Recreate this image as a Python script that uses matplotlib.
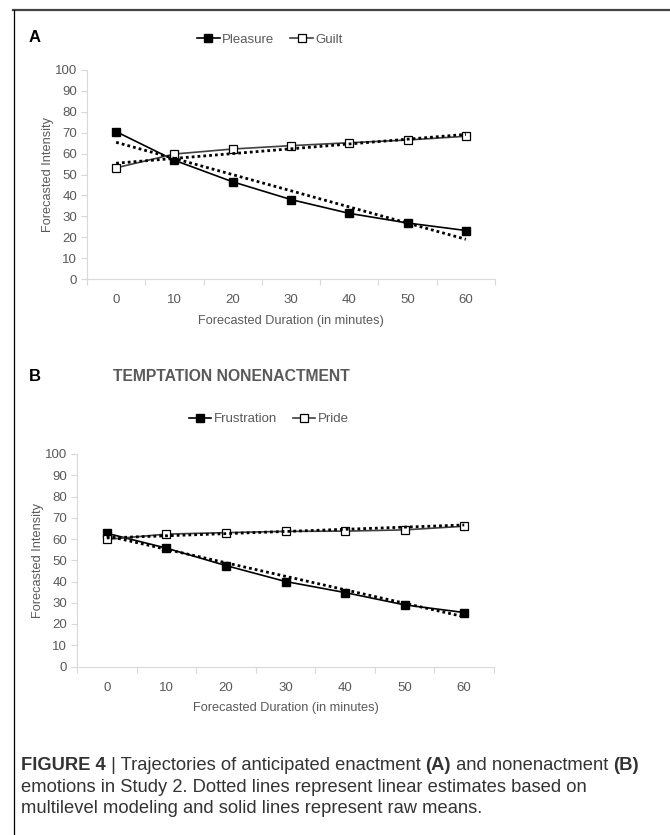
import numpy as np
import matplotlib.pyplot as plt
from matplotlib.lines import Line2D

# dados
duracao = ['0', '10', '20', '30', '40', '50', '60']

prazer = [70.5, 56.8, 46.5, 38.0, 31.4, 26.8, 23.2]
culpa = [53.2, 59.8, 62.2, 63.8, 65.2, 66.5, 68.3]
prazer_est = [65.4, 19.0]
culpa_est = [55.4, 69.2]

frustracao = [62.7, 55.7, 47.5, 40.0, 34.8, 29.0, 25.4]
orgulho = [59.8, 62.3, 63.0, 63.6, 63.7, 64.3, 66.0]
frustracao_est = [61.5, 23.4]
orgulho_est = [60.5, 66.6]

cinza = '#595959'
eixo = '#d9d9d9'
fonte_graf = ['Liberation Sans', 'DejaVu Sans']

fig = plt.figure(figsize=(6.7, 8.35), dpi=100)
W, H = 670, 835


def painel(rect, serie1, serie2, est1, est2):
    ax = fig.add_axes(rect)
    x = np.arange(len(duracao))
    l1, = ax.plot(x, serie1, color='black', lw=1.2, marker='s', ms=5.8,
                  mfc='black', mec='black', zorder=3)
    l2, = ax.plot(x, serie2, color='#404040', lw=1.2, marker='s', ms=5.8,
                  mfc='white', mec='black', mew=0.9, zorder=3)
    ax.plot([x[0], x[-1]], est1, color='black', lw=2, ls=(0, (1, 1.1)), zorder=4)
    ax.plot([x[0], x[-1]], est2, color='black', lw=2, ls=(0, (1, 1.1)), zorder=4)
    ax.set_xlim(-0.5, len(duracao) - 0.5)
    ax.set_ylim(0, 100)
    ax.set_yticks(np.arange(0, 101, 10))
    ax.set_xticks(np.arange(-0.5, len(duracao)), labels=[])
    ax.set_xticks(x, labels=duracao, minor=True)
    ax.tick_params(axis='x', which='major', length=4, color=eixo, direction='out')
    ax.tick_params(axis='x', which='minor', length=0, pad=11, labelsize=9.5,
                   labelcolor=cinza)
    ax.tick_params(axis='y', length=4, color=eixo, pad=3, labelsize=9.5,
                   labelcolor=cinza)
    for lab in ax.get_xticklabels(minor=True) + ax.get_yticklabels():
        lab.set_family(fonte_graf)
    for s in ['top', 'right']:
        ax.spines[s].set_visible(False)
    for s in ['left', 'bottom']:
        ax.spines[s].set_color(eixo)
    ax.set_xlabel('Forecasted Duration (in minutes)', color=cinza, fontsize=9.2,
                  family=fonte_graf, labelpad=6)
    ax.set_ylabel('Forecasted Intensity', color=cinza, fontsize=9.2,
                  family=fonte_graf, labelpad=1)
    return ax, [l1, l2]


# painel A
axA, linhasA = painel([87 / W, 1 - 279 / H, 408 / W, 209 / H],
                      prazer, culpa, prazer_est, culpa_est)
fig.legend(linhasA, ['Pleasure', 'Guilt'], loc='center',
           bbox_to_anchor=(270 / W, 1 - 40 / H), ncol=2, frameon=False,
           handlelength=1.7, handletextpad=0.2, columnspacing=1.2,
           prop={'family': fonte_graf, 'size': 9.5}, labelcolor=cinza)
fig.text(35 / W, 1 - 38 / H, 'A', fontsize=12, fontweight='bold',
         family='Liberation Sans', ha='center', va='center')

# painel B
axB, linhasB = painel([77 / W, 1 - 666.5 / H, 417 / W, 212.5 / H],
                      frustracao, orgulho, frustracao_est, orgulho_est)
fig.legend(linhasB, ['Frustration', 'Pride'], loc='center',
           bbox_to_anchor=(269 / W, 1 - 419 / H), ncol=2, frameon=False,
           handlelength=1.7, handletextpad=0.2, columnspacing=1.2,
           prop={'family': fonte_graf, 'size': 9.5}, labelcolor=cinza)
fig.text(35 / W, 1 - 377 / H, 'B', fontsize=12, fontweight='bold',
         family='Liberation Sans', ha='center', va='center')
fig.text(231 / W, 1 - 377 / H, 'TEMPTATION NONENACTMENT', fontsize=11.3,
         fontweight='bold', color=cinza, family='Liberation Sans',
         ha='center', va='center')

# moldura (linha de cima e da esquerda)
fig.add_artist(Line2D([13 / W, 1], [1 - 9.5 / H, 1 - 9.5 / H], color='#444444',
                      lw=1.6, transform=fig.transFigure))
fig.add_artist(Line2D([13.5 / W, 13.5 / W], [0, 1 - 9.5 / H], color='black',
                      lw=0.9, transform=fig.transFigure))

# legenda da figura com partes em negrito
render = fig.canvas.get_renderer()


def escreve(y, partes, x=21 / W, tam=13.2):
    for txt, peso in partes:
        t = fig.text(x, y, txt, fontsize=tam, fontweight=peso, color='#333333',
                     family='Liberation Sans', va='center')
        x += t.get_window_extent(render).width / fig.bbox.width


escreve(1 - 765 / H, [('FIGURE 4', 'bold'), (' | Trajectories of anticipated enactment ', 'normal'),
                      ('(A)', 'bold'), (' and nonenactment ', 'normal'), ('(B)', 'bold')])
escreve(1 - 787 / H, [('emotions in Study 2. Dotted lines represent linear estimates based on', 'normal')])
escreve(1 - 808.5 / H, [('multilevel modeling and solid lines represent raw means.', 'normal')])

fig.savefig('out.png', dpi=100)
